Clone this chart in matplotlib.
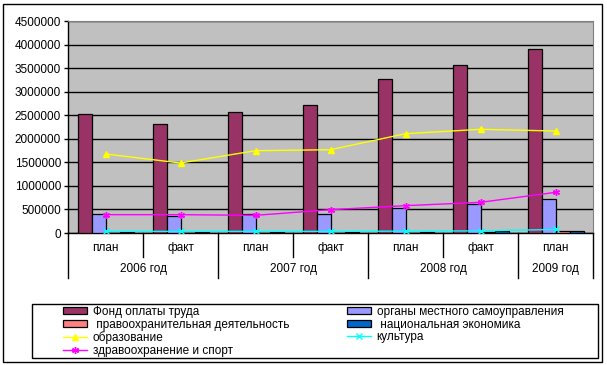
import matplotlib
matplotlib.use("Agg")
import matplotlib.pyplot as plt
from matplotlib.patches import Rectangle
from matplotlib.lines import Line2D
from matplotlib.ticker import FuncFormatter
import numpy as np

plt.rcParams['font.family'] = ['Liberation Sans', 'DejaVu Sans']
plt.rcParams['font.size'] = 8.5

# categories (two-level x axis)
periods = ["план", "факт", "план", "факт", "план", "факт", "план"]
years = ["2006 год", "2007 год", "2008 год", "2009 год"]
year_spans = [(0, 1), (2, 3), (4, 5), (6, 6)]

# bar series
fot = [2525000, 2313000, 2568000, 2717000, 3269000, 3566000, 3906000]
organy = [403000, 361000, 403000, 403000, 531000, 622000, 722000]
pravo = [8000, 8000, 8000, 8000, 10000, 12000, 40000]
nats = [15000, 15000, 15000, 18000, 25000, 45000, 40000]

# line series
obraz = [1677000, 1486000, 1747000, 1768000, 2108000, 2201000, 2165000]
kult = [35000, 35000, 35000, 35000, 40000, 45000, 75000]
zdrav = [389000, 389000, 375000, 495000, 580000, 651000, 863000]

W, H = 607, 365
fig = plt.figure(figsize=(W / 100, H / 100), dpi=100)

# outer chart border + legend frame
fig.patches.append(Rectangle((3 / W, 3 / H), 599 / W, 358 / H, transform=fig.transFigure,
                             fill=False, edgecolor='black', linewidth=1))
fig.patches.append(Rectangle((32 / W, 1 - 358 / H), 566 / W, 54 / H, transform=fig.transFigure,
                             fill=False, edgecolor='black', linewidth=1))

left, right, top, bottom = 68, 593, 21, 233
ax = fig.add_axes([left / W, 1 - bottom / H, (right - left) / W, (bottom - top) / H])
ax.set_facecolor('#C0C0C0')

x = np.arange(len(periods))
w = 0.1867
start = -0.5 + 10 / 75
bar_series = [(fot, '#993366', "Фонд оплаты труда"),
              (organy, '#9999FF', "органы местного самоуправления"),
              (pravo, '#FF8080', " правоохранительная деятельность"),
              (nats, '#0066CC', " национальная экономика")]
handles = {}
for i, (vals, col, lab) in enumerate(bar_series):
    b = ax.bar(x + start + w / 2 + i * w, vals, width=w, color=col, edgecolor='black',
               linewidth=0.9, label=lab, zorder=3)
    handles[lab] = b

line_series = [(obraz, '#FFFF00', '^', "образование"),
               (kult, '#00FFFF', 'x', "культура"),
               (zdrav, '#FF00FF', (6, 2, 0), "здравоохранение и спорт")]
for vals, col, mk, lab in line_series:
    l, = ax.plot(x, vals, color=col, marker=mk, markersize=5, linewidth=1,
                 markeredgewidth=1, label=lab, zorder=4)
    handles[lab] = l

ax.set_xlim(-0.5, 6.5)
ax.set_ylim(0, 4500000)
ax.set_yticks(np.arange(0, 4500001, 500000))
ax.yaxis.set_major_formatter(FuncFormatter(lambda v, p: "%d" % v))
ax.yaxis.grid(True, color='black', linewidth=1)
ax.set_axisbelow(True)
ax.tick_params(axis='y', direction='out', length=3, width=1, pad=2, labelsize=8.5)
ax.set_xticks([])
for s in ['top', 'right']:
    ax.spines[s].set_color('#808080')
for s in ['left', 'bottom']:
    ax.spines[s].set_color('black')
    ax.spines[s].set_linewidth(1)

# two-level category labels
tr = ax.get_xaxis_transform()
ph = bottom - top
for i, p in enumerate(periods):
    ax.text(i, -15 / ph, p, transform=tr, ha='center', va='center')
for yl, (a, b2) in zip(years, year_spans):
    ax.text((a + b2) / 2, -36 / ph, yl, transform=tr, ha='center', va='center')
year_edges = [-0.5, 1.5, 3.5, 5.5, 6.5]
for xb in np.arange(-0.5, 7, 1.0):
    depth = 45 if xb in year_edges else 24
    ax.add_line(Line2D([xb, xb], [0, -depth / ph], transform=tr, color='black',
                       linewidth=1, clip_on=False))

# legend: two columns placed separately
col1 = ["Фонд оплаты труда", " правоохранительная деятельность", "образование",
        "здравоохранение и спорт"]
col2 = ["органы местного самоуправления", " национальная экономика", "культура"]
legkw = dict(loc='upper left', frameon=False, fontsize=8.5, handlelength=2.0,
             handleheight=0.55, labelspacing=0.05, borderpad=0, handletextpad=0.5,
             borderaxespad=0)
leg1 = fig.legend([handles[k] for k in col1], col1,
                  bbox_to_anchor=(63 / W, 1 - 306 / H), **legkw)
fig.legend([handles[k] for k in col2], col2,
           bbox_to_anchor=(347 / W, 1 - 306 / H), **legkw)

fig.savefig("out.png", dpi=100)
